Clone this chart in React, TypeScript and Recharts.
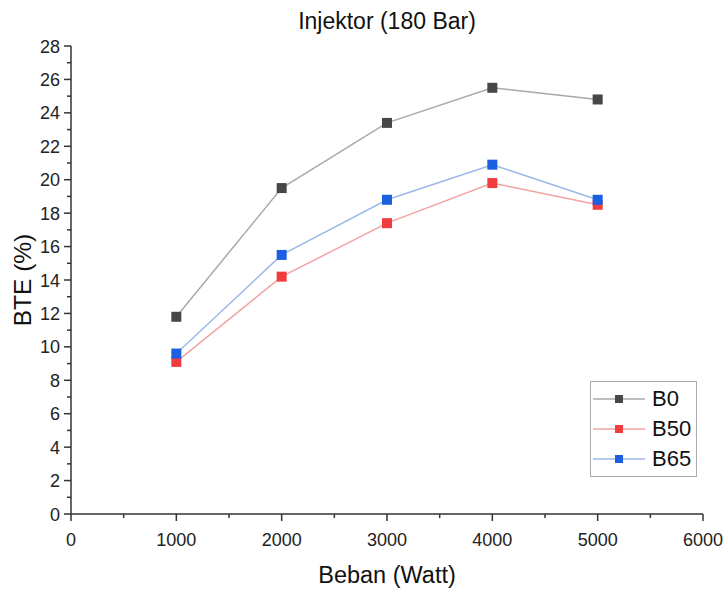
import React from 'react';
import { LineChart, Line, XAxis, YAxis, Legend } from 'recharts';

const loads = [1000, 2000, 3000, 4000, 5000];
const b0 = [11.8, 19.5, 23.4, 25.5, 24.8];
const b50 = [9.1, 14.2, 17.4, 19.8, 18.5];
const b65 = [9.6, 15.5, 18.8, 20.9, 18.8];

const xTicks = [0, 500, 1000, 1500, 2000, 2500, 3000, 3500, 4000, 4500, 5000, 5500, 6000];
const yTicks = Array.from({ length: 29 }, (_, i) => i);

const series = [
  { key: 'b0', name: 'B0', line: '#a9a9a9', marker: '#474747' },
  { key: 'b50', name: 'B50', line: '#f2a3a3', marker: '#f03c3c' },
  { key: 'b65', name: 'B65', line: '#9cb8ea', marker: '#1b5fe2' },
];

const data = loads.map((load, i) => ({ load, b0: b0[i], b50: b50[i], b65: b65[i] }));

const FONT = '"Liberation Sans", Arial, sans-serif';
const AXIS = '#333333';

function XTick(props: any) {
  const { x, y, payload } = props;
  const major = payload.value % 1000 === 0;
  return (
    <g>
      <line x1={x} x2={x} y1={y} y2={y + (major ? 7 : 4)} stroke={AXIS} strokeWidth={1.5} />
      {major && (
        <text x={x} y={y + 32} textAnchor="middle" fontSize={18} fill="#222" fontFamily={FONT}>
          {payload.value}
        </text>
      )}
    </g>
  );
}

function YTick(props: any) {
  const { x, y, payload } = props;
  const major = payload.value % 2 === 0;
  return (
    <g>
      <line x1={x} x2={x - (major ? 7 : 4)} y1={y} y2={y} stroke={AXIS} strokeWidth={1.5} />
      {major && (
        <text x={x - 11} y={y + 6.5} textAnchor="end" fontSize={18} fill="#222" fontFamily={FONT}>
          {payload.value}
        </text>
      )}
    </g>
  );
}

function squareDot(color: string) {
  return (p: any) => (
    <rect key={p.index} x={p.cx - 5} y={p.cy - 5} width={10} height={10} fill={color} />
  );
}

function LegendBox() {
  return (
    <div
      style={{
        width: 107,
        height: 96,
        boxSizing: 'border-box',
        border: '1.5px solid #aaaaaa',
        paddingTop: 2,
        background: '#fff',
        fontFamily: FONT,
      }}
    >
      {series.map((s) => (
        <div key={s.key} style={{ height: 30, display: 'flex', alignItems: 'center' }}>
          <svg width={58} height={30}>
            <line x1={2} x2={54} y1={15} y2={15} stroke={s.line} strokeWidth={1.5} />
            <rect x={24} y={11} width={8} height={8} fill={s.marker} />
          </svg>
          <span style={{ fontSize: 22, color: '#111', marginLeft: 3 }}>{s.name}</span>
        </div>
      ))}
    </div>
  );
}

export default function App() {
  return (
    <div style={{ position: 'absolute', left: 0, top: 0, width: 724, height: 592, background: '#fff' }}>
      <LineChart width={724} height={592} data={data} margin={{ top: 46, right: 21, bottom: 0, left: 0 }}>
        <text x={387} y={29} textAnchor="middle" fontSize={23} fill="#111" fontFamily={FONT}>
          Injektor (180 Bar)
        </text>
        <XAxis
          type="number"
          dataKey="load"
          domain={[0, 6000]}
          ticks={xTicks}
          interval={0}
          height={78}
          tickSize={0}
          tickMargin={0}
          tickLine={false}
          tick={<XTick />}
          axisLine={{ stroke: AXIS, strokeWidth: 1.5 }}
          label={{
            value: 'Beban (Watt)',
            position: 'insideBottom',
            offset: 9,
            style: { fontSize: 23.5, fill: '#111', fontFamily: FONT },
          }}
        />
        <YAxis
          type="number"
          domain={[0, 28]}
          ticks={yTicks}
          interval={0}
          width={71}
          tickSize={0}
          tickMargin={0}
          tickLine={false}
          tick={<YTick />}
          axisLine={{ stroke: AXIS, strokeWidth: 1.5 }}
          label={{
            value: 'BTE (%)',
            angle: -90,
            position: 'insideLeft',
            offset: 22,
            style: { fontSize: 24.5, fill: '#111', fontFamily: FONT, textAnchor: 'middle' },
          }}
        />
        <Legend
          layout="vertical"
          align="center"
          verticalAlign="middle"
          content={<LegendBox />}
          wrapperStyle={{ left: 590, top: 381, width: 107, height: 96 }}
        />
        {series.map((s) => (
          <Line
            key={s.key}
            type="linear"
            dataKey={s.key}
            name={s.name}
            stroke={s.line}
            strokeWidth={1.5}
            dot={squareDot(s.marker)}
            activeDot={false}
            isAnimationActive={false}
          />
        ))}
      </LineChart>
    </div>
  );
}
